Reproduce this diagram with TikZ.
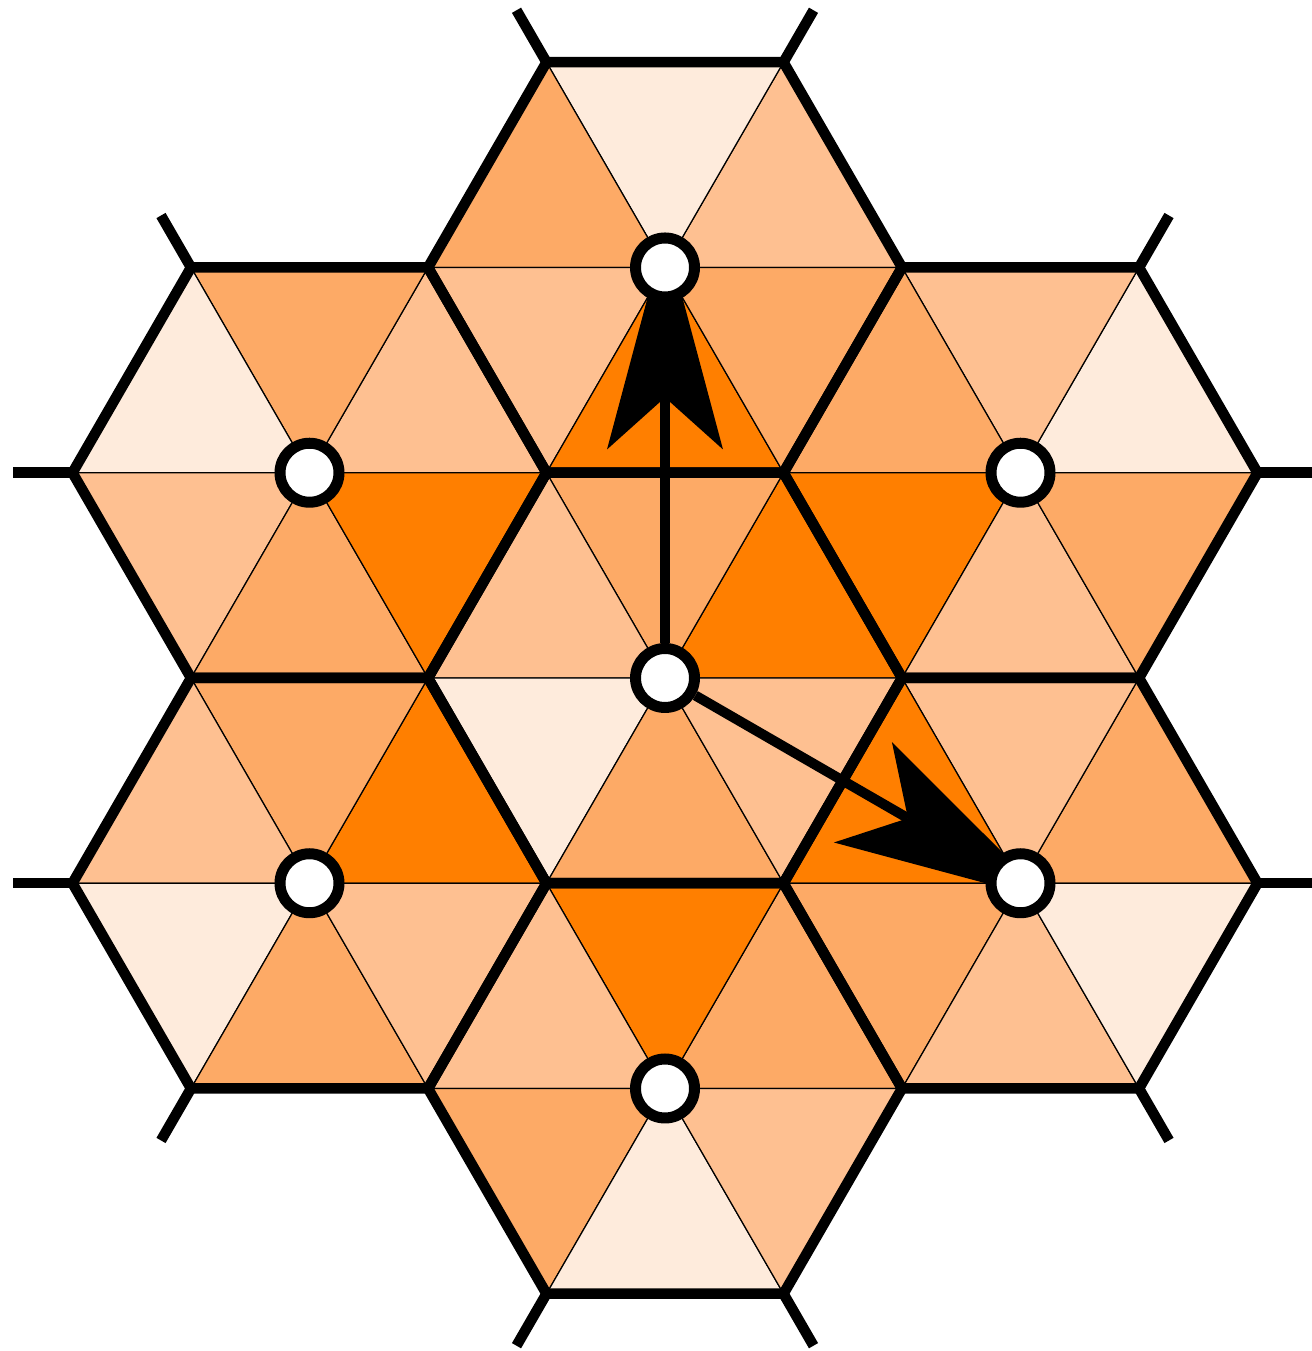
\documentclass[tikz,border=0pt]{standalone}
\usetikzlibrary{arrows.meta}
\definecolor{cD}{RGB}{255,127,0}
\definecolor{cM}{RGB}{253,170,102}
\definecolor{cL}{RGB}{254,192,145}
\definecolor{cV}{RGB}{254,235,220}
\pgfdeclarelayer{front}
\pgfsetlayers{main,front}
\begin{document}
\begin{tikzpicture}[x=0.02cm,y=0.02cm,
  tri/.style={draw=black,line width=0.7pt},
  hexedge/.style={line width=0.21cm,line join=miter},
  site/.style={circle,draw=black,fill=white,line width=0.22cm,minimum size=1.18cm,inner sep=0pt},
  vec/.style={line width=0.2cm,-{Stealth[length=4.34cm,width=2.32cm,inset=1.04cm,line width=0pt]}}]
\useasboundingbox (0,0) rectangle (1311,1351);
\def\s{237}
% hexagon centres
\coordinate (C0) at (665,673);
\coordinate (CT) at (665,1083.5);
\coordinate (CB) at (665,262.5);
\coordinate (CUL) at (309.5,878.25);
\coordinate (CUR) at (1020.5,878.25);
\coordinate (CLL) at (309.5,467.75);
\coordinate (CLR) at (1020.5,467.75);
% triangles
\foreach \c/\a/\b/\cc/\d/\e/\f in {
  C0/cD/cM/cL/cV/cM/cL,
  CT/cL/cV/cM/cL/cD/cM,
  CUL/cL/cM/cV/cL/cM/cD,
  CUR/cV/cL/cM/cD/cL/cM,
  CLL/cD/cM/cL/cV/cM/cL,
  CLR/cM/cL/cD/cM/cL/cV,
  CB/cM/cD/cL/cM/cV/cL}{
  \foreach \k/\col in {0/\a,1/\b,2/\cc,3/\d,4/\e,5/\f}{
    \filldraw[tri,fill=\col] (\c) -- +(60*\k:\s) -- +(60*\k+60:\s) -- cycle;
  }
}
% hexagon edges
\foreach \c in {C0,CT,CB,CUL,CUR,CLL,CLR}{
  \draw[hexedge] (\c) +(0:\s) -- +(60:\s) -- +(120:\s) -- +(180:\s) -- +(240:\s) -- +(300:\s) -- cycle;
}
% stubs
\foreach \c/\ang in {CT/60,CT/120,CUL/120,CUL/180,CUR/60,CUR/0,CLL/180,CLL/240,CLR/0,CLR/300,CB/240,CB/300}{
  \draw[hexedge] (\c) ++(\ang:\s) -- ++(\ang:60);
}
% sites
\begin{pgfonlayer}{front}
\node[site] (c0) at (C0) {};
\node[site] (t) at (CT) {};
\node[site] (b) at (CB) {};
\node[site] (ul) at (CUL) {};
\node[site] (ur) at (CUR) {};
\node[site] (ll) at (CLL) {};
\node[site] (lr) at (CLR) {};
\end{pgfonlayer}
% vectors (tips hidden under the far side of the target site)
\draw[vec] (c0) -- (t.north);
\draw[vec] (c0) -- (lr.-30);
\end{tikzpicture}
\end{document}
